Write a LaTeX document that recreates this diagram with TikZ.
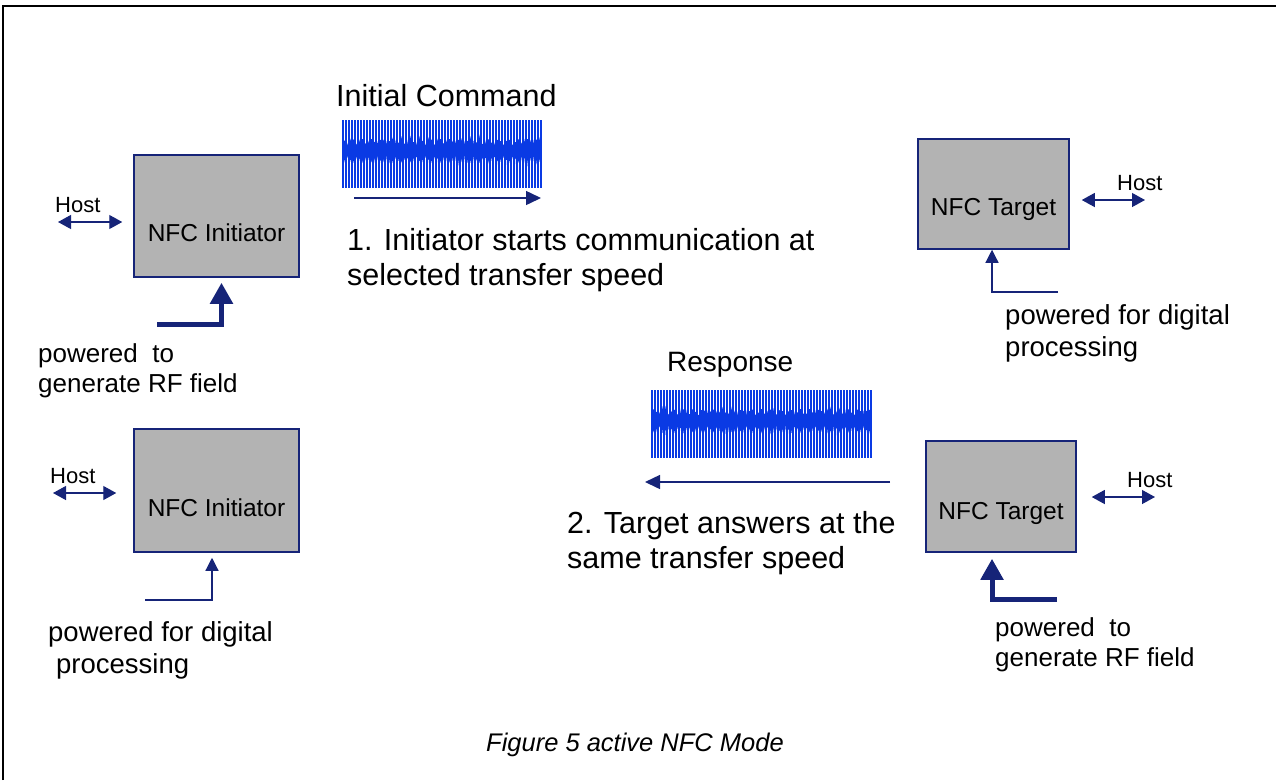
\documentclass[tikz,border=0pt]{standalone}
\usepackage{fontspec}
\setmainfont{Liberation Sans}
\usetikzlibrary{arrows.meta}

\definecolor{nfcnavy}{RGB}{22,36,120}
\definecolor{nfcwave}{RGB}{10,58,228}
\definecolor{nfcgray}{RGB}{179,179,179}

\tikzset{
  nfcbox/.style={draw=nfcnavy, fill=nfcgray, line width=1.5pt, inner sep=0pt},
  boxtext/.style={font=\fontsize{24.5}{28}\selectfont, inner sep=0pt},
  hosttext/.style={font=\fontsize{22}{26}\selectfont, inner sep=0pt, anchor=west},
  powertext/.style={font=\fontsize{26}{30}\selectfont, align=left, inner sep=0pt, anchor=west},
  digitaltext/.style={powertext, font=\fontsize{27.5}{32}\selectfont},
  steptext/.style={font=\fontsize{30.5}{35}\selectfont, align=left, inner sep=0pt, anchor=west},
  hostarrow/.style={nfcnavy, line width=1.2pt, {Triangle[length=13pt,width=14pt]}-{Triangle[length=13pt,width=14pt]}},
  thinpower/.style={nfcnavy, line width=1.2pt, -{Triangle[length=13pt,width=13pt]}},
  thickpower/.style={nfcnavy, line width=5pt, -{Triangle[length=21pt,width=22pt]}},
  wavearrow/.style={nfcnavy, line width=1.5pt, -{Triangle[length=15pt,width=14pt]}},
  wave/.style={nfcwave, line width=1.6pt},
}

\begin{document}
\begin{tikzpicture}[x=1pt, y=-1pt]

    % Page and frame
    \useasboundingbox (0,0) rectangle (1276,780);
    \draw[line width=2pt] (3,780) -- (3,6) -- (1276,6);

    % Boxes
    \node[nfcbox, minimum width=165pt, minimum height=122pt] (ini1) at (216.5,216) {};
    \node[nfcbox, minimum width=165pt, minimum height=123pt] (ini2) at (216.5,490.5) {};
    \node[nfcbox, minimum width=151pt, minimum height=110pt] (tgt1) at (993.5,194) {};
    \node[nfcbox, minimum width=150pt, minimum height=111pt] (tgt2) at (1001,496.5) {};

    % Box labels
    \node[boxtext] (ini1t) at ([yshift=-17pt]ini1.center) {NFC Initiator};
    \node[boxtext] (ini2t) at ([yshift=-17.5pt]ini2.center) {NFC Initiator};
    \node[boxtext] (tgt1t) at ([yshift=-15pt]tgt1.center) {NFC Target};
    \node[boxtext] (tgt2t) at ([yshift=-16.5pt]tgt2.center) {NFC Target};

    % Host links
    \coordinate (host1) at (58,222);
    \coordinate (host2) at (53,493);
    \coordinate (host3) at (1145,200);
    \coordinate (host4) at (1155,497);
    \draw[hostarrow, shorten >=11pt] (host1) -- (host1 -| ini1.west);
    \draw[hostarrow, shorten >=17pt] (host2) -- (host2 -| ini2.west);
    \draw[hostarrow, shorten <=12pt] (tgt1.east |- host3) -- (host3);
    \draw[hostarrow, shorten <=15pt] (tgt2.east |- host4) -- (host4);
    \node[hosttext] (host1t) at (55,205) {Host};
    \node[hosttext] (host2t) at (50,476.5) {Host};
    \node[hosttext] (host3t) at (1117,183) {Host};
    \node[hosttext] (host4t) at (1127,480) {Host};

    % Power supply
    \coordinate (pw1) at (157,324);
    \coordinate (pw2) at (145,600);
    \coordinate (pw3) at (1058,292);
    \coordinate (pw4) at (1057,599);
    \draw[thickpower, shorten >=5pt] (pw1) -| ([xshift=5pt]ini1.south);
    \draw[thinpower, shorten >=5pt] (pw2) -| ([xshift=-4.5pt]ini2.south);
    \draw[thinpower] (pw3) -| ([xshift=-1.5pt]tgt1.south);
    \draw[thickpower, shorten >=6pt] (pw4) -| ([xshift=-9pt]tgt2.south);
    \node[powertext] (pw1t) at (38,371) {powered\ \ to\\generate RF field};
    \node[digitaltext] (pw2t) at (48,650) {powered for digital\\\hspace{8pt}processing};
    \node[digitaltext] (pw3t) at (1005,333) {powered for digital\\processing};
    \node[powertext] (pw4t) at (995,645) {powered\ \ to\\generate RF field};

    % Signals
    \foreach \wa/\wb/\wt/\wl in {343/541/120/188, 652/871/390/458} {
        \pgfmathsetmacro{\ws}{\wa+3}
        \pgfmathsetmacro{\wc}{\wt+31}
        \foreach \xx in {\wa,\ws,...,\wb}
            \draw[wave] (\xx,\wt) -- (\xx,\wl);
        \draw[wave, line width=1pt] plot[domain=\wa:\wb, samples=1100]
            (\x, {\wc + (9+3*sin(mod(\x,9.7297)*37))*sin(mod(\x,1.5)*240)});
    }
    \coordinate (cmdstart) at (354,198);
    \coordinate (cmdend) at (541,198);
    \coordinate (resstart) at (890,482);
    \coordinate (resend) at (645,482);
    \draw[wavearrow] (cmdstart) -- (cmdend);
    \draw[wavearrow] (resstart) -- (resend);
    \node[steptext] (cmd) at (336,96) {Initial Command};
    \node[steptext, font=\fontsize{28}{35}\selectfont] (res) at (667,365) {Response};

    % Steps
    \node[steptext] (step1) at (347,260) {1. Initiator starts communication at\\selected transfer speed};
    \node[steptext] (step2) at (567,543) {2. Target answers at the\\same transfer speed};

    % Caption
    \node[font=\fontsize{25.5}{30}\selectfont\itshape] (caption) at (635,745) {Figure 5 active NFC Mode};

\end{tikzpicture}
\end{document}
